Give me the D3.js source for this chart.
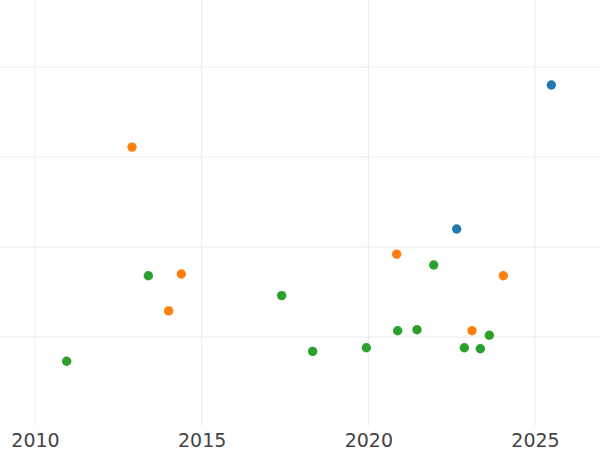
<!DOCTYPE html>
<html>
<head>
<meta charset="utf-8">
<script src="https://cdn.jsdelivr.net/npm/d3@7"></script>
<style>
html,body{margin:0;padding:0;background:#fff;}
svg{display:block;}
</style>
</head>
<body>
<svg id="chart" width="600" height="450"></svg>
<script>
// Data (x = year, y = value, group)
const blueX = [2025.49, 2022.65];
const blueY = [3.80, 2.20];
const orangeX = [2012.91, 2020.85, 2014.39, 2014.01, 2024.05, 2023.11];
const orangeY = [3.11, 1.92, 1.70, 1.29, 1.68, 1.07];
const greenX = [2010.95, 2013.40, 2017.40, 2018.33, 2019.94, 2020.88, 2021.46, 2021.96, 2022.88, 2023.36, 2023.63];
const greenY = [0.73, 1.68, 1.46, 0.84, 0.88, 1.07, 1.08, 1.80, 0.88, 0.87, 1.02];
const xTicks = [2010, 2015, 2020, 2025];
const yTicks = [1, 2, 3, 4];
const groupColors = ["#1f77b4", "#ff7f0e", "#2ca02c"];

const W = 600, H = 450;
const plotTop = 0, plotBottom = 427;
const svg = d3.select("#chart");

const x = d3.scaleLinear().domain([2008.95, 2026.95]).range([0, 600]);
const y = d3.scaleLinear().domain([0, 4.7444]).range([plotBottom, plotTop]);

// grid
const grid = svg.append("g");
grid.selectAll("line.h").data(yTicks).enter().append("line")
  .attr("x1", 0).attr("x2", W)
  .attr("y1", d => y(d)).attr("y2", d => y(d))
  .attr("stroke", "#ebebeb").attr("stroke-width", 1);
grid.selectAll("line.v").data(xTicks).enter().append("line")
  .attr("x1", d => x(d)).attr("x2", d => x(d))
  .attr("y1", 0).attr("y2", 426)
  .attr("stroke", "#ebebeb").attr("stroke-width", 1);

// x axis labels
const xAxis = d3.axisBottom(x).tickValues(xTicks).tickFormat(d3.format("d")).tickSize(0).tickPadding(0);
const gx = svg.append("g").attr("transform", "translate(0,433)").call(xAxis);
gx.select(".domain").remove();
gx.selectAll("text")
  .attr("font-family", "DejaVu Sans, sans-serif")
  .attr("font-size", 19)
  .attr("fill", "#444")
  .attr("dy", "0.71em");

// points
const groups = [
  {xs: blueX, ys: blueY, c: groupColors[0]},
  {xs: orangeX, ys: orangeY, c: groupColors[1]},
  {xs: greenX, ys: greenY, c: groupColors[2]}
];
groups.forEach(g => {
  const pts = g.xs.map((v, i) => [v, g.ys[i]]);
  svg.append("g").selectAll("circle").data(pts).enter().append("circle")
    .attr("cx", d => x(d[0])).attr("cy", d => y(d[1]))
    .attr("r", 4.7)
    .attr("fill", g.c);
});
</script>
</body>
</html>
